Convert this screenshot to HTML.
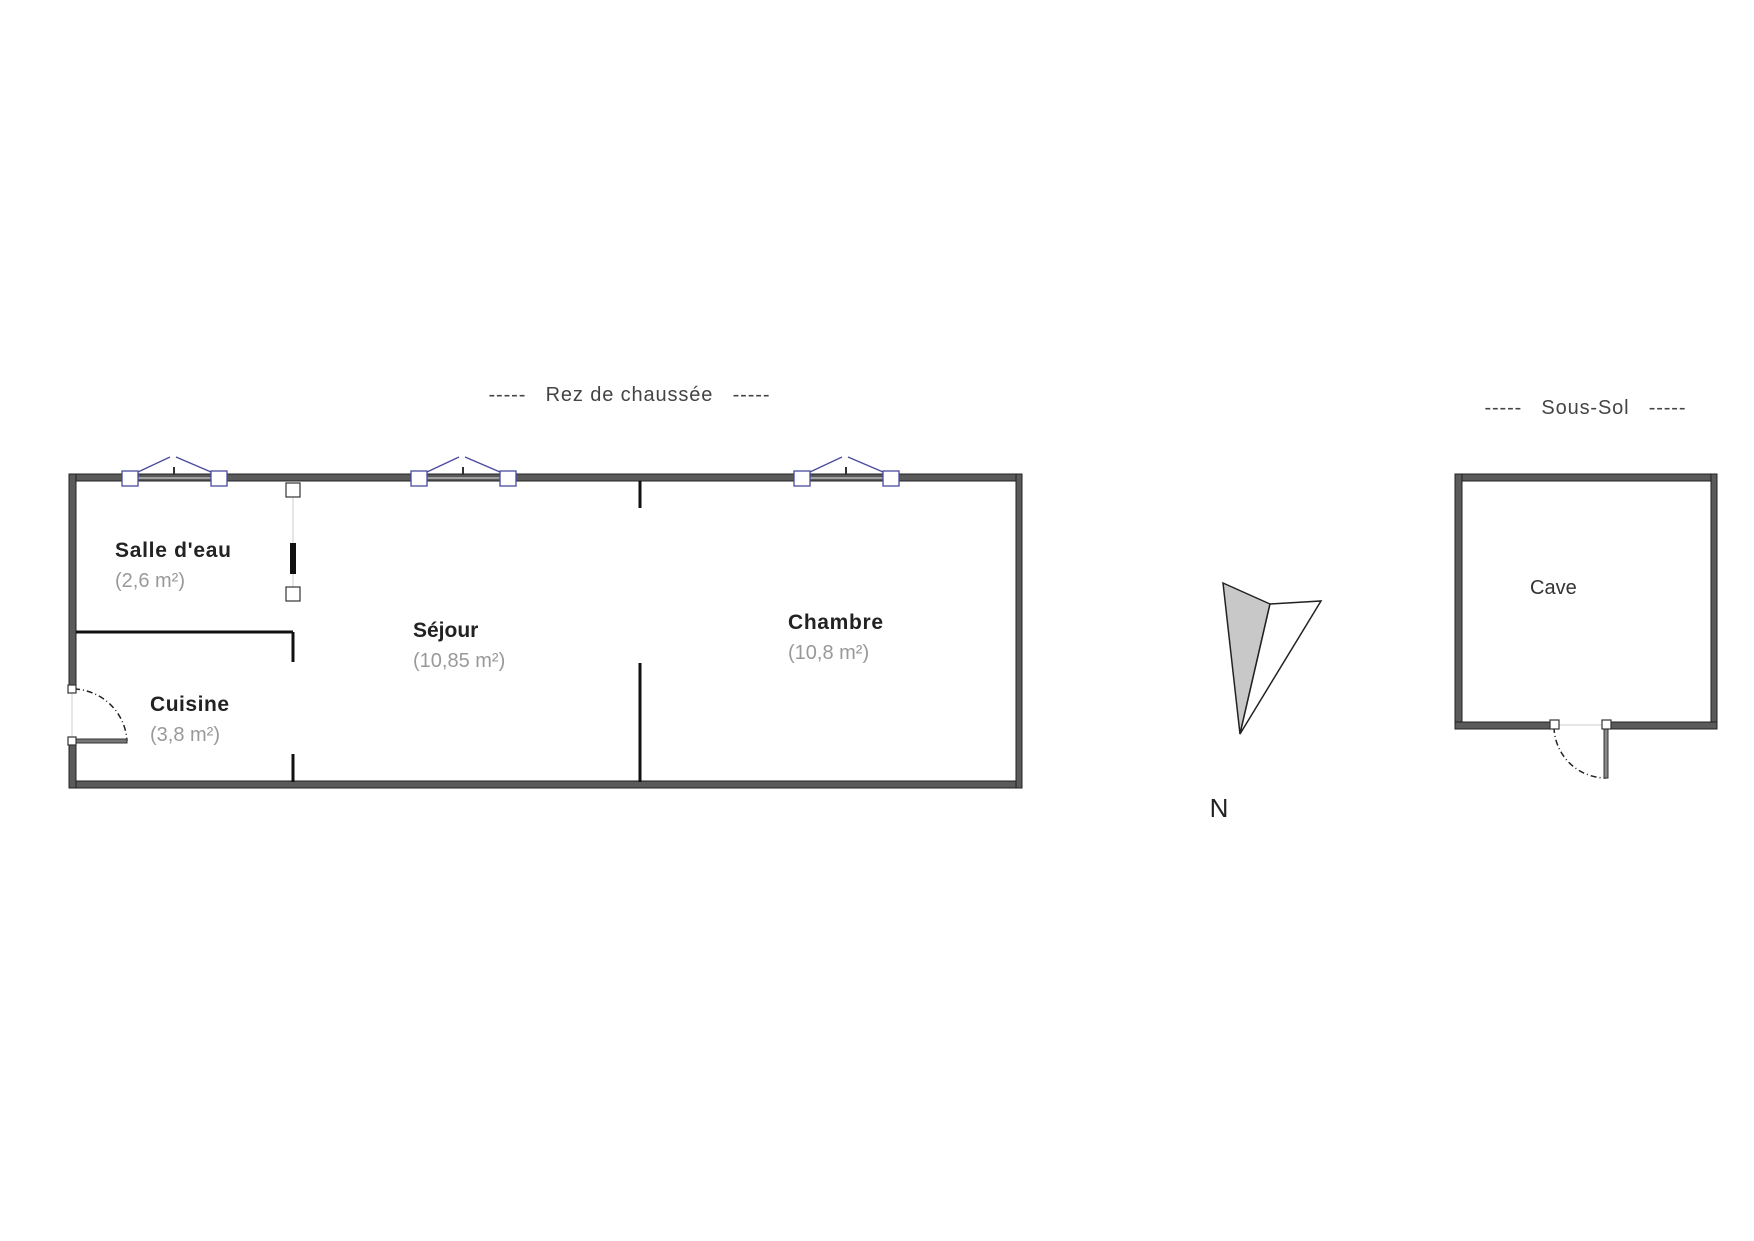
<!DOCTYPE html>
<html><head><meta charset="utf-8"><style>
html,body{margin:0;padding:0;background:#fff;}
svg{display:block}
text{font-family:"Liberation Sans","DejaVu Sans",sans-serif;white-space:pre}
</style></head><body>
<svg width="1754" height="1241" viewBox="0 0 1754 1241" xmlns="http://www.w3.org/2000/svg">
<g stroke="#222" stroke-width="1" fill="#5a5a5a">
<rect x="69" y="474" width="953" height="7"/>
<rect x="69" y="781" width="953" height="7"/>
<rect x="69" y="474" width="7" height="215"/>
<rect x="69" y="741" width="7" height="47"/>
<rect x="1016" y="474" width="6" height="314"/>
<rect x="1455" y="474" width="262" height="7"/>
<rect x="1455" y="474" width="7" height="255"/>
<rect x="1711" y="474" width="6" height="255"/>
<rect x="1455" y="722" width="99" height="7"/>
<rect x="1606" y="722" width="111" height="7"/>
</g>
<g stroke="#111" fill="none" stroke-linecap="butt">
<line x1="293" y1="498" x2="293" y2="590" stroke="#ccc" stroke-width="1"/>
<line x1="76" y1="632" x2="293" y2="632" stroke-width="3"/>
<line x1="293" y1="632" x2="293" y2="662" stroke-width="3"/>
<line x1="293" y1="754" x2="293" y2="782" stroke-width="3"/>
<line x1="640" y1="481" x2="640" y2="508" stroke-width="3"/>
<line x1="640" y1="663" x2="640" y2="782" stroke-width="3"/>
<rect x="290" y="543" width="6" height="31" fill="#111" stroke="none"/>
<line x1="72" y1="691" x2="72" y2="741" stroke="#ccc" stroke-width="1"/>
<path d="M74 689 A55 55 0 0 1 127 741" stroke="#222" stroke-width="1.5" stroke-dasharray="6,3,1,3"/>
<rect x="72" y="739" width="55" height="4" fill="#777" stroke="#333" stroke-width="1"/>
<line x1="1554" y1="725" x2="1606" y2="725" stroke="#ccc" stroke-width="1"/>
<path d="M1554 727 A52 52 0 0 0 1606 778" stroke="#222" stroke-width="1.5" stroke-dasharray="6,3,1,3"/>
<rect x="1604" y="726" width="4" height="52" fill="#888" stroke="#333" stroke-width="1"/>
</g>
<g fill="#fff" stroke="#333" stroke-width="1.2">
<rect x="286" y="483" width="14" height="14"/>
<rect x="286" y="587" width="14" height="14"/>
<rect x="68" y="685" width="8" height="8"/>
<rect x="68" y="737" width="8" height="8"/>
<rect x="1550" y="720" width="9" height="9"/>
<rect x="1602" y="720" width="9" height="9"/>
</g>
<g id="w" stroke="#4a4aa0" stroke-width="1.3" fill="#fff">
<line x1="138" y1="478" x2="211" y2="478" stroke="#ccc"/>
<polyline points="138,472 170,457" fill="none"/>
<polyline points="176,457 211,472" fill="none"/>
<line x1="174" y1="467" x2="174" y2="475" stroke="#333" stroke-width="2"/>
<rect x="122" y="471" width="16" height="15"/>
<rect x="211" y="471" width="16" height="15"/>
</g>
<use href="#w" transform="translate(289,0)"/>
<use href="#w" transform="translate(672,0)"/>
<polygon points="1223,583 1270,604 1240,734" fill="#c8c8c8" stroke="#222" stroke-width="1.5"/>
<polygon points="1270,604 1321,601 1240,734" fill="#fff" stroke="#222" stroke-width="1.5"/>
<text x="1219" y="817" font-size="26" fill="#222" text-anchor="middle">N</text>
<g font-size="21" fill="#222" font-weight="bold">
<text x="115" y="557" textLength="116">Salle d'eau</text>
<text x="413" y="637">Séjour</text>
<text x="788" y="629" textLength="95">Chambre</text>
<text x="150" y="711" textLength="79">Cuisine</text>
</g>
<g font-size="20" fill="#999">
<text x="115" y="587">(2,6 m²)</text>
<text x="413" y="667">(10,85 m²)</text>
<text x="788" y="659">(10,8 m²)</text>
<text x="150" y="741">(3,8 m²)</text>
</g>
<text x="1530" y="594" font-size="20" fill="#333">Cave</text>
<text x="629" y="401" font-size="20" fill="#444" text-anchor="middle" textLength="281">-----   Rez de chaussée   -----</text>
<text x="1585" y="414" font-size="20" fill="#444" text-anchor="middle" textLength="201">-----   Sous-Sol   -----</text>
</svg>
</body></html>
